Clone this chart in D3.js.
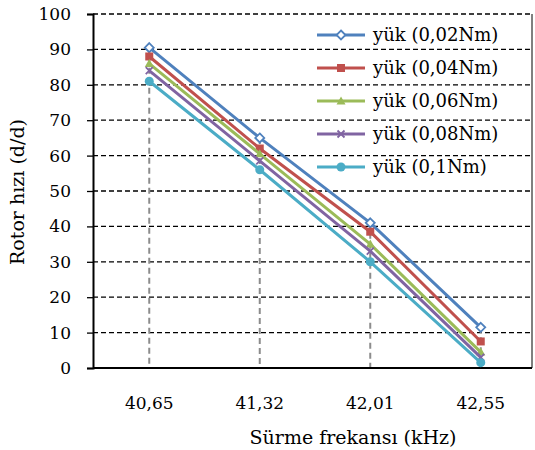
<!DOCTYPE html>
<html>
<head>
<meta charset="utf-8">
<script src="https://cdn.jsdelivr.net/npm/d3@7"></script>
<style>
  body { margin: 0; background: #fff; }
  svg { display: block; font-family: "DejaVu Serif", serif; }
</style>
</head>
<body>
<svg width="535" height="450"></svg>
<script>
// data
var categories = ["40,65", "41,32", "42,01", "42,55"];
var seriesNames = ["yük (0,02Nm)", "yük (0,04Nm)", "yük (0,06Nm)", "yük (0,08Nm)", "yük (0,1Nm)"];
var load002 = [90.5, 65, 41, 11.5];
var load004 = [88, 62, 38.5, 7.5];
var load006 = [86, 60.5, 35, 4.5];
var load008 = [84, 58.5, 33, 3];
var load01 = [81, 56, 30, 1.5];
var yTicks = [0, 10, 20, 30, 40, 50, 60, 70, 80, 90, 100];

var colors = ["#4F81BD", "#C0504D", "#9BBB59", "#8064A2", "#4BACC6"];
var markers = ["diamond", "square", "triangle", "cross", "circle"];
var allSeries = [load002, load004, load006, load008, load01];

var svg = d3.select("svg"),
    plotLeft = 93, plotRight = 532, plotTop = 14, plotBottom = 368;

var x = d3.scaleBand().domain(categories).range([94, 536]);
var y = d3.scaleLinear().domain([0, 100]).range([plotBottom, plotTop]);
var cx = function(c) { return x(c) + x.bandwidth() / 2; };

// gridlines
svg.append("g")
  .selectAll("line")
  .data(yTicks.filter(function(d) { return d > 0; }))
  .enter().append("line")
    .attr("x1", plotLeft).attr("x2", plotRight)
    .attr("y1", function(d) { return y(d); })
    .attr("y2", function(d) { return y(d); })
    .attr("stroke", "#000")
    .attr("stroke-width", 1.3)
    .attr("stroke-dasharray", "5,3");

// right border
svg.append("line")
  .attr("x1", plotRight).attr("x2", plotRight)
  .attr("y1", plotTop).attr("y2", plotBottom)
  .attr("stroke", "#000").attr("stroke-width", 1);

// y axis
var yAxis = svg.append("g")
  .attr("transform", "translate(" + plotLeft + ",0)")
  .call(d3.axisLeft(y).tickValues(yTicks).tickSize(6).tickPadding(16));
yAxis.select(".domain").attr("stroke-width", 2);
yAxis.selectAll(".tick line").attr("stroke-width", 1.3);
yAxis.selectAll("text")
  .attr("font-family", "DejaVu Serif")
  .attr("font-size", 17)
  .attr("fill", "#000");

// drop lines
var maxVals = categories.map(function(c, i) {
  return d3.max(allSeries, function(s) { return s[i]; });
});
svg.append("g")
  .selectAll("line")
  .data(categories)
  .enter().append("line")
    .attr("x1", cx).attr("x2", cx)
    .attr("y1", function(d, i) { return y(maxVals[i]); })
    .attr("y2", plotBottom)
    .attr("stroke", "#8c8c8c")
    .attr("stroke-width", 2)
    .attr("stroke-dasharray", "6,4");

// x axis line
svg.append("line")
  .attr("x1", plotLeft).attr("x2", plotRight)
  .attr("y1", plotBottom).attr("y2", plotBottom)
  .attr("stroke", "#000").attr("stroke-width", 2);

svg.append("g")
  .selectAll("text")
  .data(categories)
  .enter().append("text")
    .attr("x", cx)
    .attr("y", 409)
    .attr("text-anchor", "middle")
    .attr("font-size", 17)
    .text(function(d) { return d; });

// titles
svg.append("text")
  .attr("x", 353).attr("y", 444)
  .attr("text-anchor", "middle")
  .attr("font-size", 19)
  .text("Sürme frekansı (kHz)");

svg.append("text")
  .attr("transform", "translate(24,192) rotate(-90)")
  .attr("text-anchor", "middle")
  .attr("font-size", 19)
  .text("Rotor hızı (d/d)");

function drawMarker(g, type, color) {
  if (type == "diamond") {
    g.append("path").attr("d", "M0,-4.5L4.5,0L0,4.5L-4.5,0Z")
      .attr("fill", "#fff").attr("stroke", color).attr("stroke-width", 1.8);
  } else if (type == "square") {
    g.append("rect").attr("x", -4).attr("y", -4).attr("width", 8).attr("height", 8)
      .attr("fill", color);
  } else if (type == "triangle") {
    g.append("path").attr("d", "M0,-4.5L4.5,3.5L-4.5,3.5Z").attr("fill", color);
  } else if (type == "cross") {
    g.append("path").attr("d", "M-3.5,-3.5L3.5,3.5M-3.5,3.5L3.5,-3.5")
      .attr("stroke", color).attr("stroke-width", 1.8);
  } else {
    g.append("circle").attr("r", 4.5).attr("fill", color);
  }
}

// series
var line = d3.line()
  .x(function(d, i) { return cx(categories[i]); })
  .y(function(d) { return y(d); });

allSeries.forEach(function(s, k) {
  var g = svg.append("g");
  g.append("path")
    .attr("d", line(s))
    .attr("fill", "none")
    .attr("stroke", colors[k])
    .attr("stroke-width", 3);
  s.forEach(function(v, i) {
    var m = g.append("g").attr("transform", "translate(" + cx(categories[i]) + "," + y(v) + ")");
    drawMarker(m, markers[k], colors[k]);
  });
});

// legend
var legend = svg.append("g");
seriesNames.forEach(function(name, k) {
  var ly = 35 + k * 33;
  legend.append("line")
    .attr("x1", 317).attr("x2", 365)
    .attr("y1", ly).attr("y2", ly)
    .attr("stroke", colors[k]).attr("stroke-width", 3);
  drawMarker(legend.append("g").attr("transform", "translate(341," + ly + ")"), markers[k], colors[k]);
  legend.append("text")
    .attr("x", 373).attr("y", ly)
    .attr("dy", "0.35em")
    .attr("font-size", 18)
    .text(name);
});
</script>
</body>
</html>
